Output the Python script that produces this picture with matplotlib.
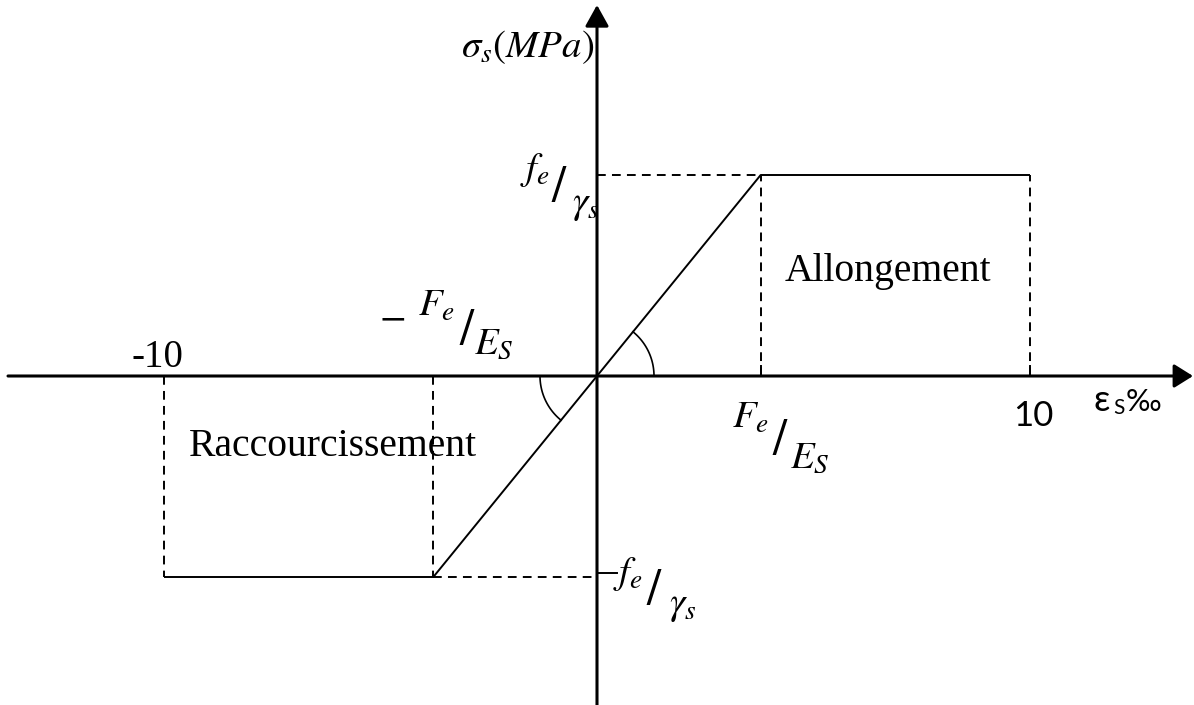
import numpy as np
import matplotlib
matplotlib.use("Agg")
import matplotlib.pyplot as plt

plt.rcParams['mathtext.fontset'] = 'stix'

# Idealised elasto-plastic steel law (strain in per mille, stress in MPa)
strain_ultimate = 10.0
strain_yield = 3.78
stress_yield = 348.0

law_strain = [-strain_ultimate, -strain_yield, strain_yield, strain_ultimate]
law_stress = [-stress_yield, -stress_yield, stress_yield, stress_yield]

tick_strains = [-10, 10]
tick_labels = ["-10", "10"]

W, H = 1194, 705
fig = plt.figure(figsize=(W / 100, H / 100), dpi=100)
ax = fig.add_axes([0, 0, 1, 1])
ax.set_axis_off()

# scale: pixels per unit on each axis, origin placement
ox, oy = 597, 376
sx = (1030 - ox) / strain_ultimate
sy = 201 / stress_yield
ax.set_xlim(-ox / sx, (W - ox) / sx)
ax.set_ylim(-(H - oy) / sy, oy / sy)


def P(x, y):
    return (x / W, 1 - y / H)


black = "black"
axis_lw = 2.2
line_lw = 1.4
dash = (0, (4.5, 3.2))

# axes with arrows
x0, x1 = ax.get_xlim()
y0, y1 = ax.get_ylim()
ax.annotate("", xy=(x1 - 1 / sx, 0), xytext=(x0 + 8 / sx, 0),
            arrowprops=dict(arrowstyle="-|>,head_length=0.8,head_width=0.5",
                            mutation_scale=14.4, lw=axis_lw, color=black,
                            shrinkA=0, shrinkB=0))
ax.annotate("", xy=(0, y1 - 5 / sy), xytext=(0, y0),
            arrowprops=dict(arrowstyle="-|>,head_length=0.9,head_width=0.5",
                            mutation_scale=14.4, lw=axis_lw, color=black,
                            shrinkA=0, shrinkB=0))

# constitutive law
ax.plot(law_strain, law_stress, color=black, lw=line_lw, solid_capstyle="butt")

# dashed guides
ax.plot([0, strain_yield], [stress_yield, stress_yield], color=black, lw=line_lw, linestyle=dash)
ax.plot([strain_yield, strain_yield], [0, stress_yield], color=black, lw=line_lw, linestyle=dash)
ax.plot([strain_ultimate, strain_ultimate], [0, stress_yield], color=black, lw=line_lw, linestyle=dash)
ax.plot([-strain_ultimate, -strain_ultimate], [0, -stress_yield], color=black, lw=line_lw, linestyle=dash)
ax.plot([-strain_yield, -strain_yield], [0, -stress_yield], color=black, lw=line_lw, linestyle=dash)
ax.plot([-strain_yield, 0], [-stress_yield, -stress_yield], color=black, lw=line_lw, linestyle=dash)

# small ticks
for xs in [strain_yield, strain_ultimate]:
    ax.plot([xs, xs], [0, 10 / sy], color=black, lw=line_lw)
ax.plot([0, 20 / sx], [-stress_yield + 4 / sy, -stress_yield + 4 / sy], color=black, lw=line_lw)

# angle arcs (drawn as circles in pixel space)
r = 57
ang = np.arctan2(stress_yield * sy, strain_yield * sx)
t = np.linspace(0, ang, 60)
ax.plot(r * np.cos(t) / sx, r * np.sin(t) / sy, color=black, lw=1.2)
t = np.linspace(np.pi, np.pi + ang, 60)
ax.plot(r * np.cos(t) / sx, r * np.sin(t) / sy, color=black, lw=1.2)

serif = "Liberation Serif"
sans = ["Lato", "DejaVu Sans"]
MS = 28  # math label size

# vertical axis title
fig.text(*P(528, 47), r"$\sigma_s(MPa)$", fontsize=MS, ha="center", va="center", color=black)


def frac(num, den, pnum, pslash, pden, size=MS):
    fig.text(*pnum, num, fontsize=size, ha="center", va="center")
    fig.text(*pslash, r"$/$", fontsize=size * 1.3, ha="center", va="center")
    fig.text(*pden, den, fontsize=size, ha="center", va="center")


frac(r"$f_e$", r"$\gamma_s$", P(535, 170), P(559, 188), P(586, 204))
frac(r"$f_e$", r"$\gamma_s$", P(628, 574), P(654, 591), P(683, 605))
fig.text(*P(392, 316), r"$-$", fontsize=MS, ha="center", va="center")
frac(r"$F_e$", r"$E_S$", P(436, 305), P(467, 331), P(494, 343))
frac(r"$F_e$", r"$E_S$", P(750, 417), P(780, 441), P(810, 457))

# strain tick labels
fig.text(*P(157, 358), tick_labels[0], fontsize=28, family=serif, ha="center", va="center")
fig.text(*P(1033, 416), tick_labels[1], fontsize=25, family=sans, ha="center", va="center")

# strain axis title
fig.text(*P(1102, 400), "ε", fontsize=26, family=sans, ha="center", va="center")
fig.text(*P(1119, 408), "S", fontsize=15, family=sans, ha="center", va="center")
fig.text(*P(1143, 402), "‰", fontsize=22, family=sans, ha="center", va="center")

# region labels
fig.text(*P(888, 271), "Allongement", fontsize=28.5, family=serif, ha="center", va="center")
fig.text(*P(333, 446), "Raccourcissement", fontsize=28.5, family=serif, ha="center", va="center")

fig.savefig("out.png", dpi=100, facecolor="white")
